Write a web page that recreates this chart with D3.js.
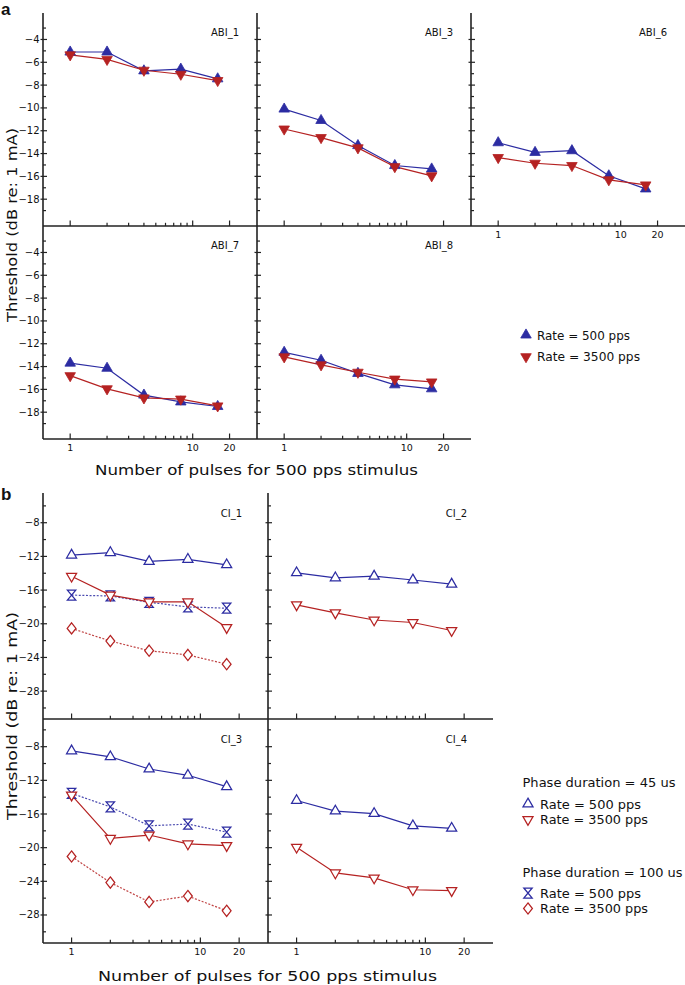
<!DOCTYPE html>
<html><head><meta charset="utf-8">
<script src="https://cdn.jsdelivr.net/npm/d3@7"></script>
<style>body{margin:0;background:#fff}svg{display:block}text{font-family:"DejaVu Sans",sans-serif;fill:#111}</style>
</head><body><svg id="c" width="685" height="985"></svg>
<script>
// ---------- data ----------
const pulses = [1, 2, 4, 8, 16];
const xTickValues = [1,2,3,4,5,6,7,8,9,10,20];
const xTickLabels = {1:"1", 10:"10", 20:"20"};

const abiNames = ["ABI_1","ABI_3","ABI_6","ABI_7","ABI_8"];
const abiRate500 = [
  [-5.1,-5.1,-6.75,-6.6,-7.45],
  [-10.1,-11.1,-13.3,-15.05,-15.35],
  [-13.05,-13.9,-13.75,-15.95,-17.1],
  [-13.7,-14.15,-16.5,-17.1,-17.5],
  [-12.75,-13.45,-14.6,-15.6,-15.95]
];
const abiRate3500 = [
  [-5.35,-5.75,-6.7,-7.05,-7.6],
  [-11.85,-12.6,-13.5,-15.15,-15.95],
  [-14.35,-14.85,-15.05,-16.3,-16.75],
  [-14.8,-15.95,-16.75,-16.85,-17.45],
  [-13.15,-13.85,-14.5,-15.1,-15.35]
];
const abiYMajor = [-4,-6,-8,-10,-12,-14,-16,-18];
const abiYMinor = [-3,-5,-7,-9,-11,-13,-15,-17,-19];

const ciNames = ["CI_1","CI_2","CI_3","CI_4"];
const ciPd45Rate500 = [
  [-11.85,-11.55,-12.6,-12.35,-13.0],
  [-13.95,-14.55,-14.35,-14.8,-15.3],
  [-8.5,-9.2,-10.65,-11.4,-12.75],
  [-14.4,-15.65,-15.95,-17.4,-17.7]
];
const ciPd45Rate3500 = [
  [-14.35,-16.6,-17.4,-17.4,-20.45],
  [-17.75,-18.7,-19.55,-19.85,-20.8],
  [-13.75,-18.9,-18.5,-19.55,-19.75],
  [-19.95,-23.0,-23.6,-25.0,-25.1]
];
const ciPd100Rate500 = [
  [-16.6,-16.7,-17.45,-18.0,-18.15],
  null,
  [-13.55,-15.15,-17.4,-17.2,-18.15],
  null
];
const ciPd100Rate3500 = [
  [-20.55,-22.05,-23.2,-23.7,-24.8],
  null,
  [-21.05,-24.15,-26.45,-25.75,-27.5],
  null
];
const ciYMajor = [-8,-12,-16,-20,-24,-28];
const ciYMinor = [-6,-10,-14,-18,-22,-26,-30];

const legendA = ["Rate = 500 pps","Rate = 3500 pps"];
const legendBHeads = ["Phase duration = 45 us","Phase duration = 100 us"];
const legendBItems = ["Rate = 500 pps","Rate = 3500 pps"];
const yTitle = "Threshold (dB re: 1 mA)";
const xTitle = "Number of pulses for 500 pps stimulus";

// ---------- styles ----------
const BLUE = "#2c2ca2", RED = "#b52222", AX = "#222";
const svg = d3.select("#c");
svg.append("rect").attr("width",685).attr("height",985).attr("fill","#fff");

const fmt = v => String(v).replace("-", "\u2212");

function markerPath(kind){
  if (kind==="triUp") return d3.symbol(d3.symbolTriangle, 48)();
  if (kind==="triDown") return d3.symbol(d3.symbolTriangle, 48)();
  if (kind==="oTriUp" || kind==="oTriDown") return d3.symbol(d3.symbolTriangle, 44)();
  if (kind==="hour") { const w=4.2,h=5; return `M${-w},${-h}L${w},${-h}L${-w},${h}L${w},${h}Z`; }
  if (kind==="diam") { const w=4.4,h=5.6; return `M0,${-h}L${w},0L0,${h}L${-w},0Z`; }
}
function markerRot(kind){ return (kind==="triDown"||kind==="oTriDown") ? 180 : 0; }
function drawMarker(g, kind, color, x, y){
  const filled = kind==="triUp"||kind==="triDown";
  g.append("path").attr("d", markerPath(kind))
    .attr("transform", `translate(${x},${y}) rotate(${markerRot(kind)})`)
    .attr("fill", filled ? color : "#fff")
    .attr("stroke", color).attr("stroke-width", filled ? 0.8 : 1.25)
    .attr("stroke-linejoin","miter");
}

function drawPanel(p){
  const g = svg.append("g");
  const x = d3.scaleLog().domain([0.6, 33.5]).range([p.left, p.left + p.width]);
  const y = d3.scaleLinear().domain(p.yDomain).range([p.top + p.height, p.top]);
  g.append("line").attr("x1",p.left).attr("x2",p.left).attr("y1",p.top).attr("y2",p.top+p.height)
    .attr("stroke",AX).attr("stroke-width",1.6);
  g.append("line").attr("x1",p.left).attr("x2",p.left+p.width).attr("y1",p.top+p.height).attr("y2",p.top+p.height)
    .attr("stroke",AX).attr("stroke-width",1.6);
  p.yMajor.forEach(v=>{
    g.append("line").attr("x1",p.left-2.5).attr("x2",p.left+4).attr("y1",y(v)).attr("y2",y(v)).attr("stroke",AX).attr("stroke-width",1.2);
    if (p.yLabels) g.append("text").attr("x",p.left-3.5).attr("y",y(v)+3.5).attr("text-anchor","end")
      .attr("font-size",10).text(fmt(v));
  });
  p.yMinor.forEach(v=>{
    if (y(v) > p.top+2 && y(v) < p.top+p.height-2)
      g.append("line").attr("x1",p.left).attr("x2",p.left+3).attr("y1",y(v)).attr("y2",y(v)).attr("stroke",AX).attr("stroke-width",1.2);
  });
  const yb = p.top + p.height;
  xTickValues.forEach(v=>{
    const major = xTickLabels[v] !== undefined;
    g.append("line").attr("x1",x(v)).attr("x2",x(v)).attr("y1",yb).attr("y2",yb-(major?5.5:3.2))
      .attr("stroke",AX).attr("stroke-width",1.2);
    if (p.xLabels && major) g.append("text").attr("x",x(v)).attr("y",yb+11.5).attr("text-anchor","middle")
      .attr("font-size",9.5).text(xTickLabels[v]);
  });
  g.append("text").attr("x",p.left+p.nameDx).attr("y",p.top+p.nameDy).attr("text-anchor","end")
    .attr("font-size",10).text(p.name);
  p.series.forEach(s=>{
    if (!s.values) return;
    const pts = pulses.map((k,i)=>[x(k), y(s.values[i])]);
    g.append("path").attr("d", d3.line()(pts)).attr("fill","none").attr("stroke",s.color)
      .attr("stroke-width",1.2).attr("stroke-dasharray", s.dash || null).attr("opacity", s.dash?0.85:1);
  });
  p.series.forEach(s=>{
    if (!s.values) return;
    pulses.forEach((k,i)=> drawMarker(g, s.marker, s.color, x(k), y(s.values[i])));
  });
}

// ---------- panel a ----------
const aCols = [43, 257, 471], aRows = [13, 226], aW = 214, aH = 213;
const aYDomain = [-20.35, -1.68];
const aPos = [[0,0],[0,1],[0,2],[1,0],[1,1]];
abiNames.forEach((nm,i)=>{
  const [r,c] = aPos[i];
  drawPanel({left:aCols[c], top:aRows[r], width:aW, height:aH, yDomain:aYDomain,
    yMajor:abiYMajor, yMinor:abiYMinor, yLabels:c===0, xLabels:(r===1||c===2),
    name:nm, nameDx:196, nameDy:23,
    series:[{values:abiRate500[i], color:BLUE, marker:"triUp"},
            {values:abiRate3500[i], color:RED, marker:"triDown"}]});
});

// ---------- panel b ----------
const bCols = [43, 268], bRows = [493, 719], bW = 225, bH = [226, 224];
const bYDomains = [[-31.31,-4.47],[-31.33,-4.71]];
ciNames.forEach((nm,i)=>{
  const r = Math.floor(i/2), c = i%2;
  drawPanel({left:bCols[c], top:bRows[r], width:bW, height:bH[r], yDomain:bYDomains[r],
    yMajor:ciYMajor, yMinor:ciYMinor, yLabels:c===0, xLabels:r===1,
    name:nm, nameDx:199, nameDy:23.5,
    series:[{values:ciPd100Rate500[i], color:BLUE, marker:"hour", dash:"2,1.6"},
            {values:ciPd100Rate3500[i], color:RED, marker:"diam", dash:"2,1.6"},
            {values:ciPd45Rate500[i], color:BLUE, marker:"oTriUp"},
            {values:ciPd45Rate3500[i], color:RED, marker:"oTriDown"}]});
});

// ---------- titles ----------
svg.append("text").attr("x",1).attr("y",15).attr("font-size",17).attr("font-weight","bold")
  .style("font-family","Liberation Sans, Arial, sans-serif").text("a");
svg.append("text").attr("x",1).attr("y",500).attr("font-size",17).attr("font-weight","bold")
  .style("font-family","Liberation Sans, Arial, sans-serif").text("b");

svg.append("text").attr("transform","translate(17,225) rotate(-90)").attr("text-anchor","middle")
  .attr("font-size",14).attr("textLength",194).attr("lengthAdjust","spacingAndGlyphs").text(yTitle);
svg.append("text").attr("transform","translate(17,716) rotate(-90)").attr("text-anchor","middle")
  .attr("font-size",14.5).attr("textLength",208).attr("lengthAdjust","spacingAndGlyphs").text(yTitle);

svg.append("text").attr("x",256.5).attr("y",475).attr("text-anchor","middle")
  .attr("font-size",14).attr("textLength",323).attr("lengthAdjust","spacingAndGlyphs").text(xTitle);
svg.append("text").attr("x",267.5).attr("y",981).attr("text-anchor","middle")
  .attr("font-size",14.5).attr("textLength",339).attr("lengthAdjust","spacingAndGlyphs").text(xTitle);

// ---------- legends ----------
const la = svg.append("g");
[[BLUE,"triUp"],[RED,"triDown"]].forEach(([col,mk],i)=>{
  const yy = 335 + i*21.7;
  drawMarker(la, mk, col, 526, yy);
  la.append("text").attr("x",537).attr("y",yy+4.5).attr("font-size",12.5)
    .attr("textLength", i===0?93:103).attr("lengthAdjust","spacingAndGlyphs").text(legendA[i]);
});

const lb = svg.append("g");
const headY = [782, 872];
legendBHeads.forEach((h,i)=>{
  lb.append("text").attr("x",522.5).attr("y",headY[i]+4.5).attr("font-size",12.5)
    .attr("textLength", i===0?153:160).attr("lengthAdjust","spacingAndGlyphs").text(h);
});
const lbItems = [[BLUE,"oTriUp",804],[RED,"oTriDown",819.5],[BLUE,"hour",893],[RED,"diam",908.5]];
lbItems.forEach(([col,mk,yy],i)=>{
  drawMarker(lb, mk, col, 528, yy);
  lb.append("text").attr("x",540).attr("y",yy+4.5).attr("font-size",12.5)
    .attr("textLength", (i%2===0)?101:108).attr("lengthAdjust","spacingAndGlyphs").text(legendBItems[i%2]);
});
</script></body></html>
